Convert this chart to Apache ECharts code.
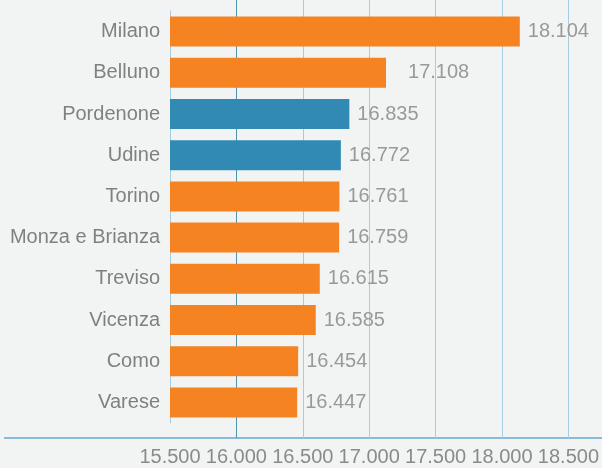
<!DOCTYPE html>
<html>
<head>
<meta charset="utf-8">
<script src="https://cdn.jsdelivr.net/npm/echarts@6/dist/echarts.min.js"></script>
<style>
  html, body { margin: 0; padding: 0; background: #f2f4f4; }
  #conMain { width: 602px; height: 468px; }
</style>
</head>
<body>
<div id="conMain"></div>
<script>
var province = ['Milano', 'Belluno', 'Pordenone', 'Udine', 'Torino', 'Monza e Brianza', 'Treviso', 'Vicenza', 'Como', 'Varese'];
var valori = [18104, 17108, 16835, 16772, 16761, 16759, 16615, 16585, 16454, 16447];
var friuli = ['Pordenone', 'Udine'];  // barre blu
var asseMin = 15500, asseMax = 18500, passo = 500;

// 18104 -> "18.104"
function fmt(v) {
    var s = String(Math.round(v) % 1000);
    while (s.length < 3) s = '0' + s;
    return Math.floor(v / 1000) + '.' + s;
}

var font = 'Liberation Sans';
var dati = [];
for (var i = 0; i < province.length; i++) {
    dati.push({
        value: valori[i],
        itemStyle: { color: friuli.indexOf(province[i]) >= 0 ? '#318ab3' : '#f58322' },
        label: { distance: i == 1 ? 22 : 8 }
    });
}

var option = {
    backgroundColor: '#f2f4f4',
    animation: false,
    grid: [
        { left: 170, right: 29, top: 0, bottom: 30 },
        { left: 170, right: 29, top: 11, bottom: 45 }
    ],
    xAxis: [
        {
            gridIndex: 0, type: 'value', min: asseMin, max: asseMax, interval: passo,
            axisLine: { show: false }, axisTick: { show: false },
            splitLine: {
                show: true, showMinLine: false,
                lineStyle: { color: ['#4f93b0', '#a9cbe0', '#a9cbe0', '#a9cbe0', '#a9cbe0', '#a9cbe0', '#a9cbe0'], width: 1 }
            },
            axisLabel: { formatter: fmt, color: '#8a8a8a', fontSize: 20, fontFamily: font, margin: 9 }
        },
        {
            gridIndex: 1, type: 'value', min: asseMin, max: asseMax, interval: passo,
            show: false
        }
    ],
    yAxis: [
        { gridIndex: 0, type: 'value', show: false },
        {
            gridIndex: 1, type: 'category', data: province, inverse: true,
            axisLine: { show: true, lineStyle: { color: '#a9cbe0', width: 1 } },
            axisTick: { show: false },
            axisLabel: { color: '#808080', fontSize: 20, fontFamily: font, margin: 10 }
        }
    ],
    series: [
        {
            type: 'bar', xAxisIndex: 1, yAxisIndex: 1,
            barWidth: 30,
            data: dati,
            label: {
                show: true, position: 'right',
                formatter: function (p) { return fmt(p.value); },
                color: '#999999', fontSize: 20, fontFamily: font
            }
        }
    ],
    graphic: [
        {
            type: 'line',
            shape: { x1: 4, y1: 438, x2: 602, y2: 438 },
            style: { stroke: '#8bbad6', lineWidth: 2 }
        }
    ]
};

var myChart = echarts.init(document.getElementById('conMain'));
myChart.setOption(option);
</script>
</body>
</html>
